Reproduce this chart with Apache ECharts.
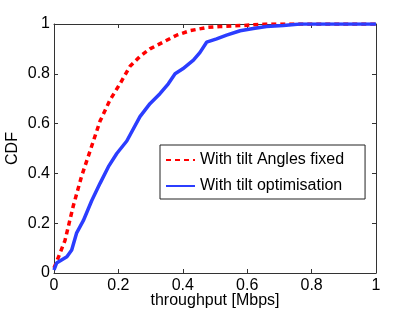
<!DOCTYPE html>
<html><head><meta charset="utf-8">
<script src="https://cdn.jsdelivr.net/npm/echarts@6/dist/echarts.min.js"></script>
<style>html,body{margin:0;padding:0;background:#fff}#c{width:415px;height:313px}</style>
</head><body><div id="c"></div>
<script>
const seriesNames = ['With tilt Angles fixed', 'With tilt optimisation'];
const xTicks = [0, 0.2, 0.4, 0.6, 0.8, 1];
const fixedX = [0, 0.008, 0.034, 0.06, 0.086, 0.112, 0.143, 0.174, 0.205, 0.236, 0.267, 0.298, 0.34, 0.381, 0.422, 0.474, 0.516, 0.587, 0.66, 1];
const fixedY = [0.02, 0.045, 0.13, 0.27, 0.39, 0.49, 0.61, 0.695, 0.76, 0.83, 0.87, 0.90, 0.928, 0.955, 0.973, 0.986, 0.99, 0.994, 1.0, 1.0];
const optX = [0, 0.008, 0.04, 0.055, 0.07, 0.091, 0.117, 0.143, 0.169, 0.195, 0.226, 0.267, 0.298, 0.329, 0.355, 0.376, 0.40, 0.433, 0.453, 0.474, 0.505, 0.536, 0.578, 0.619, 0.66, 0.712, 0.764, 1];
const optY = [0.012, 0.04, 0.065, 0.092, 0.16, 0.21, 0.29, 0.36, 0.427, 0.48, 0.53, 0.628, 0.68, 0.72, 0.76, 0.80, 0.82, 0.855, 0.885, 0.927, 0.94, 0.955, 0.973, 0.982, 0.99, 0.994, 1.0, 1.0];

const zip = (a, b) => a.map((v, i) => [v, b[i]]);
const font = 'Liberation Sans, Arial, sans-serif';
const axisCommon = {
  min: 0, max: 1, interval: 0.2,
  axisLine: {show: true, onZero: false, lineStyle: {color: '#333', width: 1}},
  axisTick: {show: true, inside: true, length: 4, lineStyle: {color: '#333'}},
  splitLine: {show: false}
};
const chart = echarts.init(document.getElementById('c'), null, {renderer: 'canvas'});
chart.setOption({
  animation: false,
  backgroundColor: '#fff',
  grid: {left: 54, right: 39, top: 24, bottom: 40, outerBoundsMode: 'none', containLabel: false},
  xAxis: [
    Object.assign({}, axisCommon, {type: 'value', position: 'bottom',
      name: 'throughput [Mbps]', nameLocation: 'middle', nameGap: 20, nameMoveOverlap: false,
      nameTextStyle: {fontFamily: font, fontSize: 16, color: '#000'},
      axisLabel: {fontFamily: font, fontSize: 16, color: '#000', margin: 5}}),
    Object.assign({}, axisCommon, {type: 'value', position: 'top', axisLabel: {show: false}})
  ],
  yAxis: [
    Object.assign({}, axisCommon, {type: 'value', position: 'left',
      name: 'CDF', nameLocation: 'middle', nameGap: 33, nameMoveOverlap: false,
      nameTextStyle: {fontFamily: font, fontSize: 16, color: '#000'},
      axisLabel: {fontFamily: font, fontSize: 16, color: '#000', margin: 4}}),
    Object.assign({}, axisCommon, {type: 'value', position: 'right', axisLabel: {show: false}})
  ],
  legend: {
    left: 160, top: 145, orient: 'vertical',
    padding: [7, 21, 5, 5], itemGap: 10,
    borderColor: '#222', borderWidth: 1, borderRadius: 0, backgroundColor: '#fff',
    itemWidth: 29, itemHeight: 18,
    itemStyle: {opacity: 0},
    textStyle: {fontFamily: font, fontSize: 16, color: '#000'},
    data: seriesNames
  },
  series: [
    {name: seriesNames[0], type: 'line', symbol: 'none', showSymbol: false, data: zip(fixedX, fixedY),
      lineStyle: {color: '#ff0000', width: 3.5, type: [5, 4]}, itemStyle: {color: '#ff0000'}, z: 2},
    {name: seriesNames[1], type: 'line', symbol: 'none', showSymbol: false, data: zip(optX, optY),
      lineStyle: {color: '#2b3dff', width: 3.5}, itemStyle: {color: '#2b3dff'}, z: 3}
  ]
});
</script></body></html>
